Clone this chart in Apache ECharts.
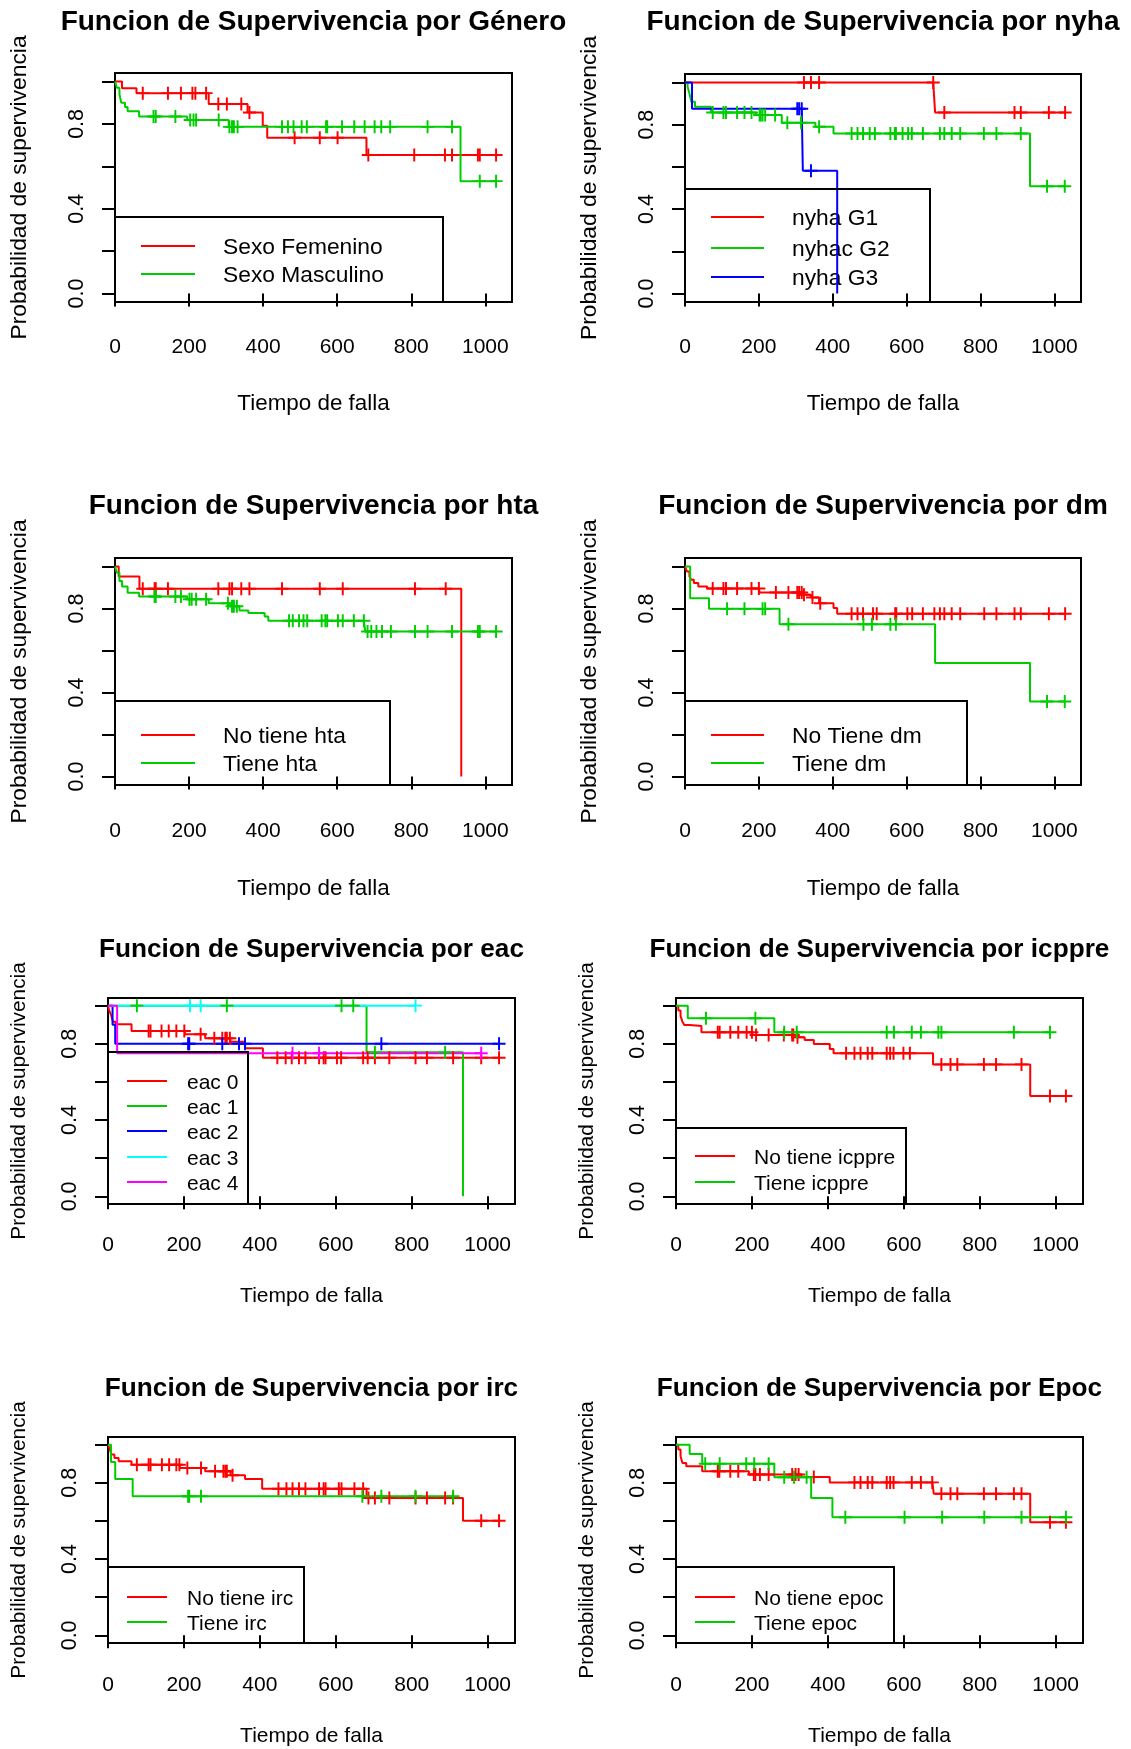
<!DOCTYPE html>
<html>
<head>
<meta charset="utf-8">
<script src="https://cdn.jsdelivr.net/npm/echarts@6/dist/echarts.min.js"></script>
<style>
  html, body { margin: 0; padding: 0; background: #fff; }
  #chart { width: 1131px; height: 1749px; }
</style>
</head>
<body>
<div id="chart"></div>
<script>
// ---- shared axis ticks and labels ----
const TICKS_X = [0, 200, 400, 600, 800, 1000];
const TICKS_Y = [0, 0.2, 0.4, 0.6, 0.8, 1.0];
const LABELS_Y = [0, 0.4, 0.8];
const X_NAME = 'Tiempo de falla';
const Y_NAME = 'Probabilidad de supervivencia';

// ---- Kaplan-Meier estimates: event times, survival after each event, censored times ----
// Género
const generoNames = ['Sexo Femenino', 'Sexo Masculino'];
const femTimes = [19, 58, 253, 358, 399, 411, 679];
const femSurv = [0.968, 0.945, 0.894, 0.854, 0.791, 0.735, 0.653];
const femCens = [75, 143, 178, 209, 217, 246, 279, 302, 341, 363, 485, 553, 601, 684, 808, 891, 910, 980, 985, 1029];
const mascTimes = [5, 12, 17, 27, 34, 65, 195, 307, 933];
const mascSurv = [0.97, 0.94, 0.90, 0.88, 0.86, 0.835, 0.818, 0.786, 0.53];
const mascCens = [104, 110, 163, 203, 212, 219, 280, 309, 316, 321, 331, 451, 467, 482, 504, 518, 570, 573, 613, 646, 674, 701, 719, 743, 844, 910, 985, 1029];

// nyha
const nyhaNames = ['nyha G1', 'nyhac G2', 'nyha G3'];
const g1Times = [677];
const g1Surv = [0.858];
const g1Cens = [322, 341, 363, 672, 702, 892, 909, 985, 1029];
const g2Times = [7, 12, 17, 27, 70, 192, 262, 353, 402, 934];
const g2Surv = [0.98, 0.948, 0.908, 0.885, 0.858, 0.846, 0.809, 0.79, 0.758, 0.508];
const g2Cens = [75, 104, 111, 141, 161, 180, 202, 205, 210, 217, 244, 277, 314, 363, 451, 467, 482, 500, 514, 556, 568, 571, 589, 604, 614, 644, 690, 702, 722, 745, 809, 843, 909, 980, 1028];
const g3Times = [19, 319, 412];
const g3Surv = [0.875, 0.582, 0];
const g3Cens = [304, 309, 316, 341];

// hta
const htaNames = ['No tiene hta', 'Tiene hta'];
const htaNoTimes = [10, 66, 935];
const htaNoSurv = [0.952, 0.894, 0];
const htaNoCens = [75, 107, 110, 143, 279, 309, 316, 341, 363, 451, 553, 615, 810, 893];
const htaSiTimes = [5, 12, 19, 34, 65, 195, 253, 311, 336, 360, 404, 414, 676];
const htaSiSurv = [0.97, 0.93, 0.905, 0.875, 0.857, 0.844, 0.825, 0.81, 0.79, 0.778, 0.762, 0.741, 0.69];
const htaSiCens = [107, 110, 163, 178, 201, 207, 219, 246, 305, 316, 321, 329, 470, 480, 497, 509, 519, 558, 568, 573, 602, 615, 645, 672, 682, 692, 706, 721, 745, 810, 844, 910, 980, 985, 1029];

// dm
const dmNames = ['No Tiene dm', 'Tiene dm'];
const dmNoTimes = [5, 12, 17, 24, 36, 60, 202, 319, 341, 363, 402, 412];
const dmNoSurv = [0.976, 0.952, 0.937, 0.921, 0.905, 0.895, 0.876, 0.865, 0.852, 0.825, 0.802, 0.775];
const dmNoCens = [75, 104, 111, 141, 180, 200, 246, 280, 304, 309, 316, 322, 345, 366, 451, 467, 482, 509, 519, 569, 572, 602, 615, 644, 675, 690, 702, 722, 745, 810, 843, 892, 909, 985, 1029];
const dmSiTimes = [14, 65, 256, 677, 934];
const dmSiSurv = [0.849, 0.798, 0.725, 0.541, 0.357];
const dmSiCens = [114, 161, 210, 217, 280, 483, 506, 556, 571, 980, 1028];

// eac
const eacNames = ['eac 0', 'eac 1', 'eac 2', 'eac 3', 'eac 4'];
const eac0Times = [3, 8, 13, 20, 62, 204, 256, 323, 361, 408];
const eac0Surv = [0.975, 0.951, 0.916, 0.902, 0.867, 0.85, 0.829, 0.81, 0.776, 0.727];
const eac0Cens = [107, 112, 141, 160, 180, 201, 244, 280, 301, 309, 313, 321, 446, 468, 484, 503, 520, 556, 568, 573, 603, 614, 672, 684, 703, 741, 810, 840, 909, 983, 1030];
const eac1Times = [681, 935];
const eac1Surv = [0.755, 0];
const eac1Cens = [76, 313, 615, 646, 703, 888];
const eac2Times = [12, 19];
const eac2Surv = [0.9, 0.8];
const eac2Cens = [211, 214, 301, 345, 361, 720, 1030];
const eac3Times = [];
const eac3Surv = [];
const eac3Cens = [216, 244, 810];
const eac4Times = [24];
const eac4Surv = [0.75];
const eac4Cens = [486, 556, 983];

// icppre
const icpNames = ['No tiene icppre', 'Tiene icppre'];
const icpNoTimes = [6, 12, 17, 22, 36, 67, 202, 315, 339, 363, 405, 415, 677, 933];
const icpNoSurv = [0.975, 0.945, 0.916, 0.899, 0.893, 0.86, 0.846, 0.834, 0.82, 0.799, 0.773, 0.75, 0.692, 0.526];
const icpNoCens = [110, 115, 143, 164, 186, 200, 211, 244, 284, 306, 309, 320, 448, 470, 486, 505, 517, 555, 564, 573, 599, 616, 699, 723, 741, 811, 843, 910, 985, 1027];
const icpSiTimes = [31, 259];
const icpSiSurv = [0.934, 0.86];
const icpSiCens = [79, 209, 285, 318, 555, 574, 621, 645, 691, 699, 890, 985];

// irc
const ircNames = ['No tiene irc', 'Tiene irc'];
const ircNoTimes = [5, 9, 17, 28, 62, 190, 256, 323, 361, 406, 681, 935];
const ircNoSurv = [0.974, 0.948, 0.93, 0.913, 0.895, 0.878, 0.86, 0.839, 0.82, 0.769, 0.72, 0.601];
const ircNoCens = [76, 107, 112, 142, 161, 180, 188, 209, 245, 282, 304, 309, 313, 328, 449, 470, 486, 503, 520, 556, 568, 573, 608, 615, 649, 672, 686, 703, 741, 810, 840, 888, 909, 983, 1030];
const ircSiTimes = [8, 19, 65];
const ircSiSurv = [0.909, 0.82, 0.729];
const ircSiCens = [211, 214, 245, 670, 720, 810, 909];

// Epoc
const epocNames = ['No tiene epoc', 'Tiene epoc'];
const epocNoTimes = [6, 12, 17, 27, 69, 192, 330, 405, 679, 933];
const epocNoSurv = [0.975, 0.939, 0.904, 0.886, 0.86, 0.843, 0.83, 0.802, 0.743, 0.593];
const epocNoCens = [110, 114, 143, 164, 205, 209, 221, 244, 306, 315, 323, 363, 470, 486, 505, 517, 555, 564, 573, 621, 645, 675, 699, 723, 741, 811, 843, 890, 910, 985, 1027];
const epocSiTimes = [36, 69, 259, 356, 412];
const epocSiSurv = [0.951, 0.9, 0.829, 0.72, 0.619];
const epocSiCens = [77, 115, 185, 206, 244, 285, 311, 344, 446, 602, 701, 812, 910, 1027];

// ---- styling ----
const RED = '#FF0000', GREEN = '#00CD00', BLUE = '#0000FF', CYAN = '#00FFFF', MAGENTA = '#FF00FF';
const FONT = '"Liberation Sans", Arial, Helvetica, sans-serif';
const PLUS = 'path://M-1.5,-10 H1.5 V-1.5 H10 V1.5 H1.5 V10 H-1.5 V1.5 H-10 V-1.5 H-1.5 Z';
const X_MAX = 1072;
// text sizes: upper two rows of panels, lower two rows
const SIZES_TOP = { title: 28, xName: 22.4, yName: 22.8, legend: 22.8 };
const SIZES_LOW = { title: 26.2, xName: 21, yName: 20.8, legend: 21 };

// panel layout (frame box, title / axis-name rows, legend box)
const panels = [
  { title: 'Funcion de Supervivencia por Género', box: [115, 73, 512, 302], titleY: 22, xNameY: 404, yNameOff: 95, labelMargin: 35, fs: SIZES_TOP,
    legend: { box: [115, 217, 443, 302], rows: [246, 274], line: [141, 195], textX: 223 },
    groups: [[generoNames[0], RED, femTimes, femSurv, femCens], [generoNames[1], GREEN, mascTimes, mascSurv, mascCens]] },
  { title: 'Funcion de Supervivencia por nyha', box: [685, 74, 1081, 302], titleY: 22, xNameY: 404, yNameOff: 95, labelMargin: 35, fs: SIZES_TOP,
    legend: { box: [685, 189, 930, 302], rows: [217, 248, 277], line: [711, 764], textX: 792 },
    groups: [[nyhaNames[0], RED, g1Times, g1Surv, g1Cens], [nyhaNames[1], GREEN, g2Times, g2Surv, g2Cens], [nyhaNames[2], BLUE, g3Times, g3Surv, g3Cens]] },
  { title: 'Funcion de Supervivencia por hta', box: [115, 558, 512, 785], titleY: 506, xNameY: 889, yNameOff: 95, labelMargin: 36, fs: SIZES_TOP,
    legend: { box: [115, 701, 390, 785], rows: [735, 763], line: [141, 195], textX: 223 },
    groups: [[htaNames[0], RED, htaNoTimes, htaNoSurv, htaNoCens], [htaNames[1], GREEN, htaSiTimes, htaSiSurv, htaSiCens]] },
  { title: 'Funcion de Supervivencia por dm', box: [685, 558, 1081, 785], titleY: 506, xNameY: 889, yNameOff: 95, labelMargin: 36, fs: SIZES_TOP,
    legend: { box: [685, 701, 967, 785], rows: [735, 763], line: [711, 764], textX: 792 },
    groups: [[dmNames[0], RED, dmNoTimes, dmNoSurv, dmNoCens], [dmNames[1], GREEN, dmSiTimes, dmSiSurv, dmSiCens]] },
  { title: 'Funcion de Supervivencia por eac', box: [108, 998, 515, 1204], titleY: 950, xNameY: 1296, yNameOff: 89, labelMargin: 31, fs: SIZES_LOW,
    legend: { box: [108, 1052, 248, 1204], rows: [1081, 1106, 1131, 1157, 1182], line: [127, 167], textX: 187 },
    groups: [[eacNames[0], RED, eac0Times, eac0Surv, eac0Cens], [eacNames[1], GREEN, eac1Times, eac1Surv, eac1Cens],
             [eacNames[2], BLUE, eac2Times, eac2Surv, eac2Cens], [eacNames[3], CYAN, eac3Times, eac3Surv, eac3Cens],
             [eacNames[4], MAGENTA, eac4Times, eac4Surv, eac4Cens]] },
  { title: 'Funcion de Supervivencia por icppre', box: [676, 998, 1083, 1204], titleY: 950, xNameY: 1296, yNameOff: 89, labelMargin: 31, fs: SIZES_LOW,
    legend: { box: [676, 1128, 906, 1204], rows: [1156, 1182], line: [695, 735], textX: 754 },
    groups: [[icpNames[0], RED, icpNoTimes, icpNoSurv, icpNoCens], [icpNames[1], GREEN, icpSiTimes, icpSiSurv, icpSiCens]] },
  { title: 'Funcion de Supervivencia por irc', box: [108, 1437, 515, 1643], titleY: 1389, xNameY: 1736, yNameOff: 89, labelMargin: 32, fs: SIZES_LOW,
    legend: { box: [108, 1567, 304, 1643], rows: [1597, 1622], line: [127, 167], textX: 187 },
    groups: [[ircNames[0], RED, ircNoTimes, ircNoSurv, ircNoCens], [ircNames[1], GREEN, ircSiTimes, ircSiSurv, ircSiCens]] },
  { title: 'Funcion de Supervivencia por Epoc', box: [676, 1437, 1083, 1643], titleY: 1389, xNameY: 1736, yNameOff: 89, labelMargin: 32, fs: SIZES_LOW,
    legend: { box: [676, 1567, 894, 1643], rows: [1597, 1622], line: [695, 735], textX: 754 },
    groups: [[epocNames[0], RED, epocNoTimes, epocNoSurv, epocNoCens], [epocNames[1], GREEN, epocSiTimes, epocSiSurv, epocSiCens]] }
];

// Step-curve points: events change the level, censored times get a "+" mark on the curve
function kmPoints(times, surv, cens) {
  const marks = times.map((t, i) => ({ t: t, s: surv[i], ev: true }))
    .concat(cens.map(t => ({ t: t, ev: false })))
    .sort((a, b) => a.t - b.t || (a.ev ? -1 : 1));
  const pts = [{ value: [0, 1], symbol: 'none' }];
  let level = 1;
  marks.forEach(m => {
    if (m.ev) {
      level = m.s;
      pts.push({ value: [m.t, level], symbol: 'none' });
    } else {
      pts.push({ value: [m.t, level], symbol: PLUS, symbolSize: 13 });
    }
  });
  return pts;
}

const grids = [], xAxes = [], yAxes = [], series = [], graphics = [];
const txt = (text, x, y, font, opts) => Object.assign({
  type: 'text', x: x, y: y, silent: true,
  style: Object.assign({ text: text, font: font, fill: '#000',
    textAlign: 'center', align: 'center', textVerticalAlign: 'middle', verticalAlign: 'middle' }, (opts && opts.style) || {})
}, (opts && opts.el) || {});

panels.forEach((p, i) => {
  const [l, t, r, b] = p.box;
  grids.push({ left: l, top: t, width: r - l, height: b - t, show: true,
    borderColor: '#000', borderWidth: 2, backgroundColor: 'transparent', containLabel: false });
  xAxes.push({ type: 'value', gridIndex: i, min: 0, max: X_MAX,
    axisLine: { show: false }, splitLine: { show: false },
    axisTick: { show: true, length: 13, customValues: TICKS_X, lineStyle: { color: '#000', width: 2 } },
    axisLabel: { customValues: TICKS_X, margin: p.labelMargin, fontSize: 21, fontFamily: FONT, color: '#000',
      formatter: v => String(v) } });
  yAxes.push({ type: 'value', gridIndex: i, min: -0.04, max: 1.04,
    axisLine: { show: false }, splitLine: { show: false },
    axisTick: { show: true, length: 13, customValues: TICKS_Y, lineStyle: { color: '#000', width: 2 } },
    axisLabel: { customValues: LABELS_Y, rotate: 90, margin: 27, fontSize: 21.5, fontFamily: FONT, color: '#000',
      formatter: v => v.toFixed(1) } });

  p.groups.forEach(g => {
    const [name, color, times, surv, cens] = g;
    series.push({ type: 'line', name: name, xAxisIndex: i, yAxisIndex: i, step: 'end',
      data: kmPoints(times, surv, cens), symbol: 'none', showSymbol: true,
      lineStyle: { color: color, width: 2 }, itemStyle: { color: color },
      animation: false, silent: true, emphasis: { disabled: true } });
  });

  // titles and axis names
  const cx = (l + r) / 2, cy = (t + b) / 2;
  graphics.push(txt(p.title, cx, p.titleY, 'bold ' + p.fs.title + 'px ' + FONT));
  graphics.push(txt(X_NAME, cx, p.xNameY, p.fs.xName + 'px ' + FONT));
  graphics.push(txt(Y_NAME, l - p.yNameOff, cy, p.fs.yName + 'px ' + FONT, { el: { rotation: Math.PI / 2 } }));

  // legend box with line keys
  const lg = p.legend;
  graphics.push({ type: 'rect', silent: true, z: 10,
    shape: { x: lg.box[0], y: lg.box[1], width: lg.box[2] - lg.box[0], height: lg.box[3] - lg.box[1] },
    style: { fill: 'none', stroke: '#000', lineWidth: 2 } });
  p.groups.forEach((g, k) => {
    graphics.push({ type: 'line', silent: true, z: 10,
      shape: { x1: lg.line[0], y1: lg.rows[k], x2: lg.line[1], y2: lg.rows[k] },
      style: { stroke: g[1], lineWidth: 2 } });
    graphics.push(txt(g[0], lg.textX, lg.rows[k] + 2, p.fs.legend + 'px ' + FONT, { style: { textAlign: 'left', align: 'left' } }));
  });
});

const chart = echarts.init(document.getElementById('chart'), null, { renderer: 'canvas' });
chart.setOption({
  animation: false,
  backgroundColor: '#fff',
  grid: grids,
  xAxis: xAxes,
  yAxis: yAxes,
  series: series,
  graphic: { elements: graphics }
});
</script>
</body>
</html>
